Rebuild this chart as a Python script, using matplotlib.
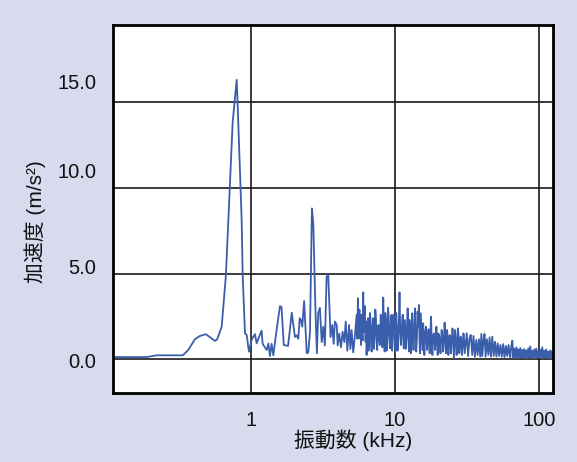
import matplotlib
matplotlib.use("Agg")
import matplotlib.pyplot as plt
import matplotlib.transforms as mtransforms
from matplotlib.ticker import FixedLocator, FixedFormatter

plt.rcParams['font.family'] = ['Liberation Sans', 'Noto Sans CJK JP', 'DejaVu Sans']

# ---- data (frequency in kHz, acceleration in m/s^2) ----
freq_low = [0.1096, 0.189, 0.221, 0.336, 0.367, 0.408, 0.442, 0.487, 0.562, 0.583,
            0.626, 0.670, 0.707, 0.746, 0.796, 0.808, 0.862, 0.876, 0.909, 0.934,
            0.968, 1.01, 1.066, 1.095, 1.14, 1.186, 1.205, 1.285, 1.32, 1.355,
            1.39, 1.43, 1.49, 1.59, 1.63, 1.69, 1.81, 1.92]
acc_low = [0.13, 0.13, 0.23, 0.23, 0.54, 1.17, 1.36, 1.46, 1.07, 1.17,
           1.9, 4.9, 9.3, 13.8, 16.3, 14.9, 8.1, 4.9, 1.5, 1.42,
           0.44, 1.13, 1.47, 0.93, 1.32, 1.67, 0.9, 0.54, 0.92, 0.19,
           0.9, 0.23, 1.42, 3.1, 3.05, 0.83, 0.78, 2.72]

freq_b = [2.02, 2.08, 2.13, 2.18, 2.22, 2.27, 2.34, 2.40, 2.44, 2.50,
          2.57, 2.65, 2.71, 2.77, 2.81, 2.87, 2.93, 3.01, 3.10, 3.18,
          3.26, 3.35, 3.44, 3.50, 3.57, 3.67, 3.75, 3.83, 3.94, 4.00,
          4.10, 4.22, 4.33, 4.45, 4.55, 4.67, 4.80, 4.90, 5.00, 5.13, 5.27]
acc_b = [1.3, 1.4, 1.2, 2.4, 2.3, 1.9, 3.4, 1.5, 0.35, 0.4,
         1.6, 8.8, 7.9, 4.6, 2.6, 0.35, 2.7, 3.0, 1.0, 1.9,
         0.8, 4.8, 4.95, 3.2, 1.3, 2.0, 0.9, 2.2, 2.0, 0.8,
         1.5, 0.7, 1.6, 1.0, 2.2, 0.5, 2.0, 0.6, 1.7, 0.4, 1.4]

freq_c = [5.42, 5.53, 5.62, 5.71, 5.81, 5.90, 6.02, 6.12, 6.25, 6.35,
          6.49, 6.62, 6.77, 6.88, 7.06, 7.22, 7.37, 7.53, 7.69, 7.85,
          8.07, 8.29, 8.48, 8.66, 8.85, 9.05, 9.24, 9.44, 9.66, 9.86,
          10.08, 10.31, 10.53, 10.75, 11.0, 11.25, 11.48, 11.74, 11.99, 12.25,
          12.5, 12.7]
acc_c = [2.58, 3.56, 1.22, 2.2, 0.83, 1.8, 3.9, 2.58, 1.03, 0.25,
         2.4, 1.22, 2.2, 0.45, 2.4, 1.4, 2.49, 0.54, 2.0, 0.83,
         2.2, 3.6, 0.45, 2.2, 1.03, 2.4, 0.64, 2.58, 1.22, 2.2,
         0.45, 1.9, 1.03, 3.9, 0.83, 2.49, 0.64, 2.29, 1.13, 2.97,
         0.45, 1.8]

freq_c2 = [5.47, 5.57, 5.66, 5.76, 5.85, 5.96, 6.07, 6.18, 6.30, 6.42,
           6.55, 6.70, 6.82, 6.97, 7.14, 7.30, 7.45, 7.61, 7.77, 7.96,
           8.18, 8.38, 8.57, 8.75, 8.95, 9.14, 9.34, 9.55, 9.76, 9.97,
           10.2, 10.42, 10.64, 10.87, 11.12, 11.36, 11.61, 11.86, 12.12, 12.37,
           12.6]
acc_c2 = [1.2, 2.3, 2.9, 1.5, 2.6, 1.1, 1.6, 3.1, 2.2, 1.5,
          0.5, 2.7, 1.0, 1.8, 0.6, 2.9, 1.1, 1.9, 1.2, 2.6,
          0.7, 1.8, 2.7, 0.5, 3.0, 1.4, 1.9, 0.5, 2.6, 1.3,
          2.7, 0.5, 2.1, 1.8, 1.5, 2.6, 1.5, 0.6, 1.9, 1.4,
          2.3]

freq_d = [12.9, 13.17, 13.45, 13.75, 14.04, 14.35, 14.66, 14.9, 15.1, 15.5,
          15.7, 16.0, 16.4, 16.7, 17.1, 17.4, 17.8, 18.2, 18.6, 19.0,
          19.4, 19.8, 20.2, 20.7, 21.1, 21.6, 22.1, 22.6, 23.0, 23.5,
          24.0, 24.5, 25.1, 25.7, 26.2, 26.8, 27.4, 28.0, 28.6, 29.2,
          29.9, 30.5]
acc_d = [0.35, 2.68, 0.54, 2.97, 0.45, 2.78, 3.17, 0.35, 2.68, 0.54,
         2.1, 0.25, 1.9, 0.54, 1.75, 0.35, 2.48, 0.25, 1.51, 0.54,
         1.9, 0.25, 1.42, 0.35, 1.71, 0.45, 2.14, 0.35, 1.71, 0.25,
         1.42, 0.35, 1.8, 0.06, 1.71, 0.25, 1.8, 0.35, 1.32, 0.25,
         1.51, 0.35]

freq_d2 = [13.03, 13.31, 13.6, 13.9, 14.2, 14.5, 14.78, 15.0, 15.3, 15.6,
           15.85, 16.2, 16.55, 16.9, 17.25, 17.6, 18.0, 18.4, 18.8, 19.2,
           19.6, 20.0, 20.45, 20.9, 21.35, 21.85, 22.35, 22.8, 23.25, 23.75,
           24.25, 24.8, 25.4, 25.95, 26.5, 27.1, 27.7, 28.3, 28.9, 29.55,
           30.2]
acc_d2 = [1.8, 1.3, 1.6, 1.5, 1.2, 1.9, 1.5, 1.4, 1.6, 1.4,
          1.2, 1.5, 1.3, 1.1, 1.2, 1.5, 1.0, 1.3, 1.2, 1.3,
          1.0, 1.5, 1.1, 1.2, 1.3, 1.0, 1.5, 1.1, 1.2, 1.0,
          1.1, 1.2, 1.0, 1.2, 1.1, 0.9, 1.2, 1.0, 1.0, 0.9,
          1.1]

freq_e = [31.5, 32.2, 32.9, 33.6, 34.4, 35.1, 35.9, 36.7, 37.5, 38.3,
          39.1, 39.8, 40.4, 41.3, 41.9, 42.6, 43.5, 44.5, 45.4, 46.4,
          47.4, 48.5, 49.5, 50.6, 51.7, 52.8, 54.0, 55.2, 56.4, 57.6,
          58.9, 60.1, 61.5, 62.8]
acc_e = [1.52, 0.19, 1.22, 1.42, 0.25, 1.36, 0.15, 1.13, 0.25, 1.17,
         0.15, 1.48, 0.19, 1.22, 1.48, 0.15, 1.17, 0.25, 1.28, 0.15,
         1.32, 0.19, 1.03, 0.15, 0.93, 0.19, 0.83, 0.15, 0.89, 0.11,
         0.78, 0.19, 0.83, 0.15]

freq_f = [63.2, 64.2, 65.3, 66.3, 67.4, 68.5, 69.6, 70.7, 71.8, 73.0,
          74.2, 75.4, 76.6, 77.8, 79.1, 80.3, 81.6, 83.0, 84.3, 85.6,
          87.0, 88.4, 89.8, 91.3, 92.8, 94.3, 95.8, 97.3, 98.9, 100.5,
          102.1, 103.8, 105.4, 107.1, 108.8, 110.6, 112.4, 114.2, 116.0, 117.9,
          119.8, 121.7, 123.7, 125.7]
acc_f = [0.12, 0.75, 1.09, 0.10, 0.62, 0.08, 0.70, 0.12, 0.58, 0.06,
         0.66, 0.10, 0.55, 0.08, 0.60, 0.12, 0.52, 0.06, 0.64, 0.10,
         0.75, 0.08, 0.50, 0.12, 0.58, 0.06, 0.62, 0.10, 0.48, 0.08,
         0.55, 0.12, 0.70, 0.06, 0.50, 0.10, 0.58, 0.08, 0.45, 0.12,
         0.52, 0.06, 0.48, 0.10]

xticks = [1, 10, 100]
xtick_labels = ['1', '10', '100']
yticks = [0, 5, 10, 15]
ytick_labels = ['0.0', '5.0', '10.0', '15.0']
xlabel = '振動数 (kHz)'
ylabel = '加速度 (m/s²)'

pairs = sorted(zip(freq_low + freq_b + freq_c + freq_c2 + freq_d + freq_d2 + freq_e + freq_f,
                   acc_low + acc_b + acc_c + acc_c2 + acc_d + acc_d2 + acc_e + acc_f))
freq = [p[0] for p in pairs]
acc = [p[1] for p in pairs]

# ---- figure ----
bg = '#d8daee'
fig = plt.figure(figsize=(5.77, 4.62), dpi=100, facecolor=bg)
pos = [0.1953, 0.150, 0.7636, 0.7959]

# subtle shadow of the plot frame (separate axes underneath)
W, H = 577.0, 462.0
sh = fig.add_axes([pos[0] + 2.0 / W, pos[1] - 2.0 / H, pos[2], pos[3]])
sh.set_zorder(0)
sh.set_facecolor('#a0a0a0')
sh.set_xticks([])
sh.set_yticks([])
for s in sh.spines.values():
    s.set_visible(False)

ax = fig.add_axes(pos)
ax.set_zorder(2)
ax.set_facecolor('white')
ax.set_xscale('log')
ax.set_xlim(0.1096, 125.7)
ax.set_ylim(-1.95, 19.5)

ax.plot(freq, acc, color='#3a5eab', lw=1.3, zorder=3)

ax.xaxis.set_major_locator(FixedLocator(xticks))
ax.xaxis.set_major_formatter(FixedFormatter(xtick_labels))
ax.xaxis.set_minor_locator(FixedLocator([]))
ax.yaxis.set_major_locator(FixedLocator(yticks))
ax.yaxis.set_major_formatter(FixedFormatter(ytick_labels))

ax.grid(True, which='major', color='#1a1a1a', lw=1.2, zorder=1)
ax.set_axisbelow(True)
ax.tick_params(axis='both', length=0, labelsize=14.5, colors='#111111')
ax.tick_params(axis='y', pad=12)
ax.tick_params(axis='x', pad=13)

# the reference's y labels sit slightly above their grid lines (pixels)
y_label_shift = [-1, 7, 17, 20.5]
fig.canvas.draw()
for lab, dy in zip(ax.get_yticklabels(), y_label_shift):
    lab.set_transform(lab.get_transform() +
                      mtransforms.ScaledTranslation(0, dy / 100.0, fig.dpi_scale_trans))

for s in ax.spines.values():
    s.set_color('black')
    s.set_linewidth(2.0)
    s.set_zorder(4)

ax.set_xlabel(xlabel, fontsize=15, color='#111111')
ax.xaxis.set_label_coords(0.545, -0.100)
ax.set_ylabel(ylabel, fontsize=15, color='#111111')
ax.yaxis.set_label_coords(-0.151, 0.464)

fig.savefig('out.png', dpi=100, facecolor=bg)
